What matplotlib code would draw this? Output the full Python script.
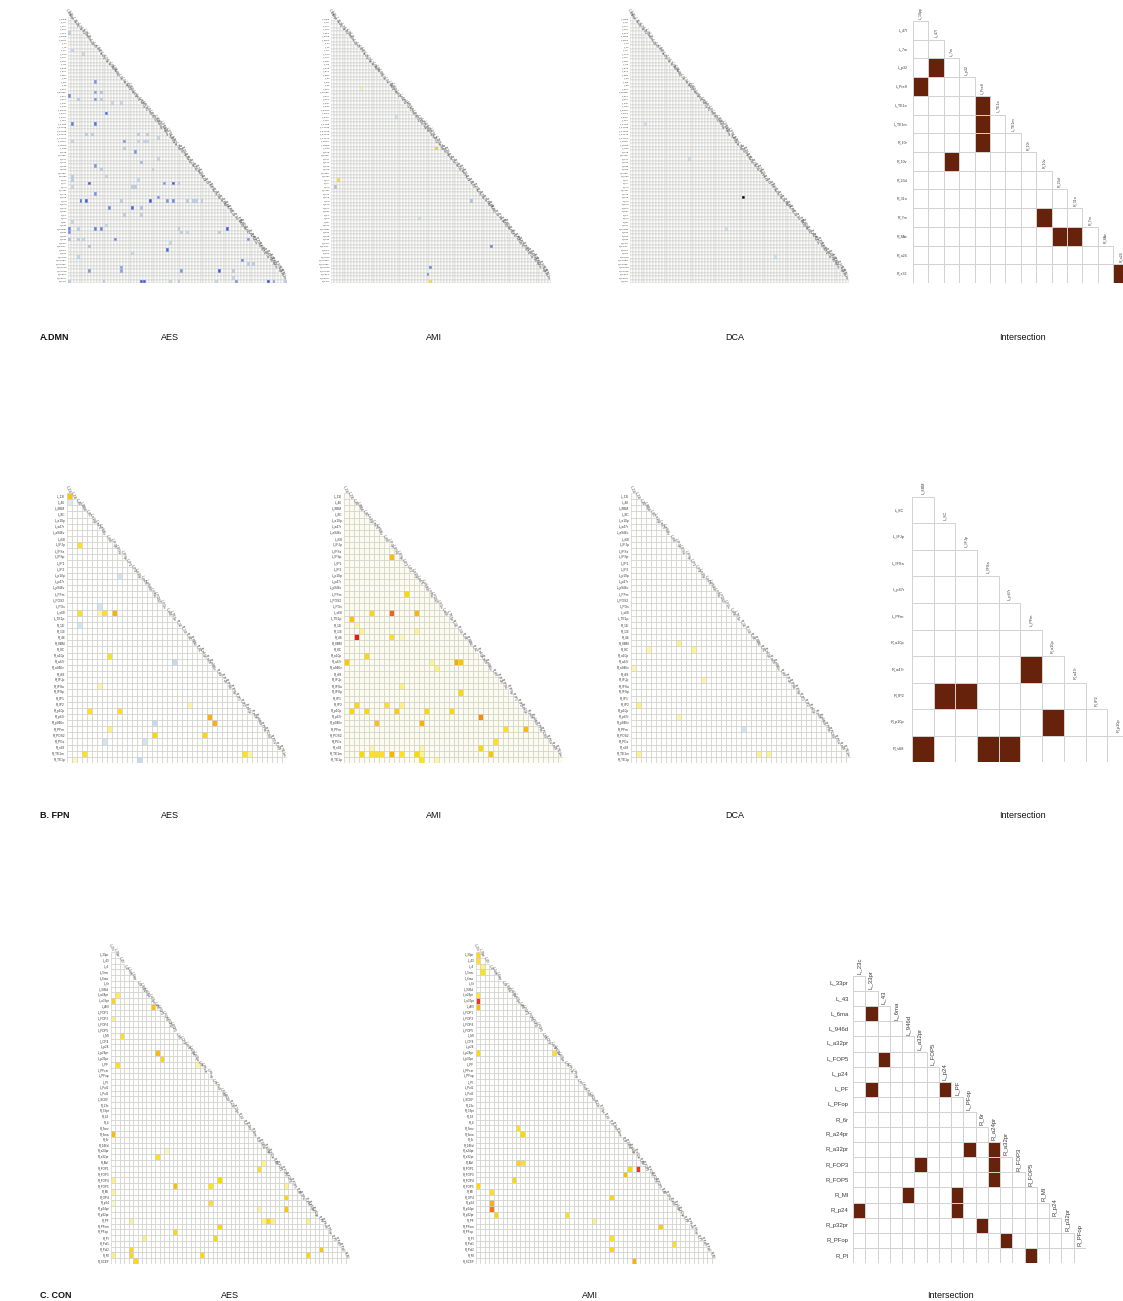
import numpy as np
import matplotlib
matplotlib.use("Agg")
import matplotlib.pyplot as plt
from matplotlib.colors import LinearSegmentedColormap, Normalize
from matplotlib.collections import PolyCollection

plt.rcParams['font.family'] = ['Liberation Sans', 'DejaVu Sans']

# ---------------------------------------------------------------- regions
dmn_left = ["10d", "10pp", "10r", "10v", "23d", "31a", "31pd", "31pv", "44", "45",
            "47l", "47m", "47s", "55b", "7m", "8Ad", "8Av", "8BL", "9a", "9m", "9p",
            "a24", "d23ab", "d32", "p32", "PGi", "PGs", "POS1", "PreS", "RSC", "s32",
            "STGa", "STSda", "STSdp", "STSva", "STSvp", "TE1a", "TE1m", "TGd"]
dmn_right = ["10d", "10pp", "10r", "10v", "23d", "31a", "31pd", "31pv", "44", "45",
             "47l", "47m", "47s", "55b", "7m", "8Ad", "8Av", "8BL", "9a", "9m", "9p",
             "a24", "d23ab", "d32", "p32", "PGi", "PGs", "POS1", "RSC", "s32",
             "STGa", "STSda", "STSdp", "STSva", "STSvp", "TE1a", "TE1m", "TGd"]
fpn_left = ["11l", "13l", "46", "8BM", "8C", "a10p", "a47r", "a946v", "i68", "IFJp",
            "IFSa", "IFSp", "IP1", "IP2", "p10p", "p47r", "p946v", "PFm", "POS2",
            "PGs", "s68", "TE1p"]
fpn_right = ["11l", "13l", "46", "8BM", "8C", "a10p", "a47r", "a946v", "i68", "IFJp",
             "IFSa", "IFSp", "IP1", "IP2", "p10p", "p47r", "p946v", "PFm", "POS2",
             "PGs", "s68", "TE1m", "TE1p"]
con_left = ["23c", "33pr", "43", "4", "5mv", "6ma", "6r", "946d", "a24pr", "a32pr",
            "AVI", "FOP1", "FOP3", "FOP4", "FOP5", "MI", "OP4", "p24", "p24pr",
            "p32pr", "PF", "PFcm", "PFop", "PI", "PoI1", "PoI2", "SCEF"]
con_right = ["23c", "33pr", "43", "4", "5mv", "6ma", "6r", "946d", "a24pr", "a32pr",
             "AVI", "FOP1", "FOP3", "FOP4", "FOP5", "MI", "OP4", "p24", "p24pr",
             "p32pr", "PF", "PFcm", "PFop", "PI", "PoI1", "PoI2", "RI", "SCEF"]

dmn_names = ["L_" + s for s in dmn_left] + ["R_" + s for s in dmn_right]
fpn_names = ["L_" + s for s in fpn_left] + ["R_" + s for s in fpn_right]
con_names = ["L_" + s for s in con_left] + ["R_" + s for s in con_right]

# ---------------------------------------------------------------- DMN edges
dmn_aes_r = [4, 9, 10, 18, 21, 21, 22, 23, 23, 23, 24, 24, 27, 30, 30, 33, 33, 33, 33,
             34, 35, 35, 35, 35, 35, 37, 38, 41, 40, 42, 43, 43, 45, 46, 45, 46,
             47, 47, 47, 47, 48, 48, 48, 50, 51, 52, 52, 52, 52, 52, 52, 52, 52, 52,
             52, 54, 54, 54, 56, 56, 58, 60, 61, 60, 60, 60, 59, 60, 61, 61, 61, 60,
             63, 63, 63, 63, 64, 63, 65, 66, 68, 67, 69, 70, 70, 71, 72, 72, 72, 72,
             72, 74, 75, 75, 75, 75, 75, 75, 75, 75, 75, 75, 75]
dmn_aes_c = [0, 1, 5, 9, 9, 11, 0, 3, 9, 11, 15, 18, 13, 1, 9, 6, 8, 24, 27,
             31, 1, 19, 24, 26, 27, 19, 23, 25, 31, 9, 11, 29, 1, 1, 13, 24,
             7, 33, 36, 38, 1, 22, 23, 9, 31, 4, 6, 18, 28, 34, 36, 41, 43, 44,
             46, 14, 22, 25, 19, 25, 1, 0, 0, 3, 9, 11, 13, 38, 39, 41, 52, 55,
             0, 3, 5, 16, 35, 62, 7, 34, 3, 22, 60, 62, 64, 18, 18, 7, 39, 52,
             57, 57, 0, 12, 25, 26, 35, 38, 51, 58, 69, 71, 75]
dmn_aes_v = [-0.25, -0.2, -0.2, -0.5, -0.45, -0.3, -0.55, -0.25, -0.5, -0.25, -0.2, -0.2,
             -0.75, -0.6, -0.7, -0.25, -0.25, -0.25, -0.25, -0.2, -0.2, -0.5, -0.2,
             -0.2, -0.2, -0.25, -0.5, -0.35, -0.2, -0.5, -0.25, -0.2, -0.25, -0.25,
             -0.2, -0.2, -0.85, -0.45, -0.85, -0.25, -0.2, -0.25, -0.25, -0.5, -0.5,
             -0.85, -0.85, -0.25, -0.9, -0.5, -0.55, -0.25, -0.25, -0.25, -0.25,
             -0.55, -0.8, -0.3, -0.25, -0.25, -0.2, -0.55, -0.55, -0.25, -0.6, -0.55,
             -0.2, -0.25, -0.25, -0.2, -0.25, -0.85, -0.3, -0.25, -0.2, -0.55, -0.2,
             -0.5, -0.3, -0.75, -0.2, -0.2, -0.55, -0.25, -0.25, -0.45, -0.45, -0.5,
             -0.5, -0.85, -0.25, -0.2, -0.25, -0.25, -0.85, -0.85, -0.2, -0.25, -0.2,
             -0.5, -0.9, -0.5, -0.25]

dmn_ami_r = [13, 20, 28, 37, 39, 46, 48, 52, 57, 65, 71, 73, 75]
dmn_ami_c = [17, 10, 22, 36, 40, 2, 1, 48, 30, 55, 34, 33, 34]
dmn_ami_v = [0.25, 0.15, -0.15, 0.55, 0.35, 0.45, -0.3, -0.3, -0.15, -0.6, -0.6,
             -0.6, 0.45]

# value above the colour range marks a saturated edge (drawn black)
dmn_dca_r = [51, 30, 40, 60, 68]
dmn_dca_c = [39, 5, 20, 33, 50]
dmn_dca_v = [1.5, -0.15, -0.15, -0.15, -0.15]

# ---------------------------------------------------------------- FPN edges
fpn_aes_r = [0, 1, 8, 13, 18, 19, 19, 19, 19, 21, 26, 27, 31, 34, 35, 35, 36, 37,
             37, 38, 39, 39, 40, 40, 42, 42, 42, 43, 43]
fpn_aes_c = [0, 0, 2, 10, 6, 2, 6, 7, 9, 2, 8, 21, 6, 24, 4, 10, 28, 29,
             17, 8, 17, 27, 7, 15, 3, 35, 36, 1, 14]
fpn_aes_v = [0.6, -0.12, 0.45, -0.15, -0.15, 0.45, 0.2, 0.45, 0.7, -0.15, 0.45, -0.2,
             0.2, 0.2, 0.45, 0.45, 0.7, 0.7, -0.2, 0.3, 0.5, 0.5, -0.15, -0.15, 0.45,
             0.45, 0.2, 0.15, -0.2]

fpn_ami_r = [10, 16, 19, 19, 19, 20, 21, 22, 22, 23, 23, 23, 26, 27, 27, 27, 27, 28,
             31, 32, 34, 34, 34, 35, 35, 35, 35, 35, 36, 37, 37, 38, 38, 40, 41, 41,
             41, 42, 42, 42, 42, 42, 42, 42, 42, 42, 43, 43]
fpn_ami_c = [9, 12, 5, 9, 14, 1, 2, 3, 14, 2, 9, 11, 4, 0, 17, 22, 23, 18,
             11, 23, 2, 8, 11, 1, 4, 10, 16, 21, 27, 6, 15, 32, 36, 30, 5, 15,
             27, 3, 5, 6, 7, 9, 11, 14, 15, 29, 15, 18]
fpn_ami_v = [0.65, 0.5, 0.5, 0.88, 0.68, 0.62, 0.2, 0.25, 0.25, 1.0, 0.45, 0.15, 0.5,
             0.6, 0.25, 0.72, 0.62, 0.3, 0.3, 0.5, 0.5, 0.45, 0.3, 0.5, 0.5, 0.55,
             0.5, 0.5, 0.8, 0.62, 0.7, 0.45, 0.65, 0.45, 0.2, 0.2, 0.5, 0.5, 0.45,
             0.45, 0.45, 0.7, 0.45, 0.5, 0.25, 0.6, 0.45, 0.2]

fpn_dca_r = [24, 25, 25, 28, 30, 34, 36, 38, 42, 42, 42]
fpn_dca_c = [9, 3, 12, 0, 14, 1, 9, 22, 1, 25, 27]
fpn_dca_v = [0.25, 0.2, 0.25, 0.2, 0.2, 0.3, 0.2, -0.15, 0.25, 0.25, 0.25]

# ---------------------------------------------------------------- CON edges
con_aes_r = [7, 8, 9, 11, 14, 17, 18, 19, 19, 31, 34, 35, 36, 37, 37, 39, 39, 40,
             40, 40, 41, 42, 43, 43, 44, 44, 46, 46, 46, 46, 46, 47, 48, 49, 49,
             51, 51, 52, 52, 52, 52, 53]
con_aes_c = [1, 0, 9, 0, 2, 10, 11, 1, 19, 0, 12, 10, 34, 33, 39, 0, 24, 14,
             22, 39, 0, 39, 0, 22, 33, 39, 4, 34, 35, 36, 44, 24, 14, 7, 23,
             4, 47, 0, 4, 20, 44, 5]
con_aes_v = [0.35, 0.5, 0.62, 0.3, 0.45, 0.65, 0.5, 0.45, 0.2, 0.65, 0.15, 0.45,
             0.25, 0.45, 0.72, 0.3, 0.5, 0.65, 0.45, 0.25, 0.25, 0.5, 0.15, 0.45,
             0.25, 0.6, 0.25, 0.3, 0.5, 0.3, 0.3, 0.5, 0.5, 0.3, 0.5, 0.5, 0.6, 0.3,
             0.5, 0.5, 0.5, 0.5]

con_ami_r = [0, 1, 2, 3, 7, 8, 8, 9, 17, 17, 17, 18, 30, 31, 36, 36, 37, 37, 38,
             39, 40, 41, 42, 43, 44, 45, 45, 46, 47, 49, 50, 51, 53]
con_ami_c = [0, 0, 1, 1, 0, 0, 10, 0, 0, 17, 22, 22, 9, 10, 9, 10, 34, 36, 33,
             8, 0, 3, 30, 3, 3, 4, 20, 26, 41, 30, 44, 30, 35]
con_ami_v = [0.5, 0.45, 0.3, 0.45, 0.4, 0.95, 0.7, 0.65, 0.5, 0.45, 0.5, 0.3, 0.45,
             0.5, 0.5, 0.45, 0.5, 0.95, 0.65, 0.5, 0.5, 0.45, 0.5, 0.7, 0.85, 0.5,
             0.45, 0.3, 0.55, 0.45, 0.45, 0.5, 0.7]

# ---------------------------------------------------------------- intersections
dmn_int_names = ["L_10pp", "L_47l", "L_7m", "L_p32", "L_PreS", "L_TE1a", "L_TE1m",
                 "R_10r", "R_10v", "R_23d", "R_31a", "R_7m", "R_8Av", "R_a24", "R_s32"]
dmn_int_r = [2, 3, 4, 5, 6, 7, 10, 11, 11, 13]
dmn_int_c = [1, 0, 4, 4, 4, 2, 8, 9, 10, 13]

fpn_int_names = ["L_8BM", "L_8C", "L_IFJp", "L_IFSa", "L_p47r", "L_PFm", "R_a10p",
                 "R_a47r", "R_IP2", "R_p10p", "R_s68"]
fpn_int_r = [6, 7, 7, 8, 9, 9, 9]
fpn_int_c = [5, 1, 2, 6, 0, 3, 4]

con_int_names = ["L_23c", "L_33pr", "L_43", "L_6ma", "L_946d", "L_a32pr", "L_FOP5",
                 "L_p24", "L_PF", "L_PFop", "R_6r", "R_a24pr", "R_a32pr", "R_FOP3",
                 "R_FOP5", "R_MI", "R_p24", "R_p32pr", "R_PFop", "R_PI"]
con_int_r = [2, 5, 7, 7, 11, 11, 12, 12, 13, 14, 14, 15, 15, 16, 17, 18]
con_int_c = [1, 2, 1, 7, 9, 11, 5, 11, 11, 4, 8, 0, 8, 10, 12, 14]

# ---------------------------------------------------------------- drawing
W, H = 1123, 1301
fig = plt.figure(figsize=(W / 100, H / 100), dpi=100)
fig.patch.set_facecolor("white")


def edge_cmap(zero_color):
    cm = LinearSegmentedColormap.from_list("edge", [
        (0.00, "#2a46e6"), (0.20, "#5b7fe8"), (0.35, "#a9c4ec"), (0.44, "#d9ecf0"),
        (0.50, zero_color), (0.56, "#fdf9c8"), (0.65, "#fff27a"), (0.75, "#ffd900"),
        (0.85, "#fbb300"), (0.925, "#f57a10"), (1.00, "#ee1a10")])
    cm.set_over("black")
    return cm


WHITE_ZERO = "#fefefe"
IVORY_ZERO = "#fbfbf1"
hit_cmap = LinearSegmentedColormap.from_list("hit", ["#ffffff", "#66220a"])
TXT = "#3a3a3a"


def px_axes(x0, y0, x1, y1):
    """Axes placed by pixel box (top-left origin)."""
    return fig.add_axes([x0 / W, 1 - y1 / H, (x1 - x0) / W, (y1 - y0) / H])


def lower_cells(n, rows, cols, vals):
    """Quads and values for the strict lower triangle of an n x n matrix."""
    m = np.zeros((n, n))
    for r, c, v in zip(rows, cols, vals):
        m[r, c] = v
    verts, values = [], []
    for r in range(n):
        for c in range(r + 1):
            verts.append([(c, r), (c + 1, r), (c + 1, r + 1), (c, r + 1)])
            values.append(m[r, c])
    return verts, np.array(values)


def draw_triangle(ax, n, rows, cols, vals, cm, vmin, vmax, grid, lw):
    verts, values = lower_cells(n, rows, cols, vals)
    coll = PolyCollection(verts, array=values, cmap=cm,
                          norm=Normalize(vmin, vmax), edgecolors=grid,
                          linewidths=lw, antialiased=True)
    ax.add_collection(coll)
    ax.set_xlim(0, n)
    ax.set_ylim(n, 0)
    ax.axis("off")


def heat_panel(box, names, rows, cols, vals, fs, zero=WHITE_ZERO,
               grid="#cdcdcd", lw=0.45, cfs=None):
    n = len(names) - 1
    ax = px_axes(*box)
    draw_triangle(ax, n, rows, cols, vals, edge_cmap(zero), -1, 1, grid, lw)
    cfs = cfs or fs
    for i in range(n):
        ax.text(-0.4, i + 0.5, names[i + 1], ha="right", va="center",
                fontsize=fs, color=TXT)
        ax.text(i + 0.55, i - 0.1, names[i], ha="right", va="center",
                rotation=-70, rotation_mode="anchor", fontsize=cfs, color=TXT)
    return ax


def inter_panel(box, names, rows, cols, fs):
    n = len(names) - 1
    ax = px_axes(*box)
    vals = [1.0] * len(rows)
    draw_triangle(ax, n, rows, cols, vals, hit_cmap, 0, 1, "#d2d2d2", 0.7)
    for i in range(n):
        ax.text(-0.35, i + 0.5, names[i + 1], ha="right", va="center",
                fontsize=fs, color=TXT)
        ax.text(i + 0.5, i - 0.12, names[i], ha="center", va="bottom",
                rotation=90, fontsize=fs, color=TXT)
    return ax


# row A: default mode network
heat_panel((68, 17, 287, 283), dmn_names, dmn_aes_r, dmn_aes_c, dmn_aes_v, 1.7,
           grid="#c8c8c8", lw=0.35, cfs=2.2)
heat_panel((331, 17, 551, 283), dmn_names, dmn_ami_r, dmn_ami_c, dmn_ami_v, 1.7,
           grid="#c8c8c8", lw=0.35, cfs=2.2)
heat_panel((630, 17, 849, 283), dmn_names, dmn_dca_r, dmn_dca_c, dmn_dca_v, 1.7,
           grid="#c8c8c8", lw=0.35, cfs=2.2)
inter_panel((913, 21, 913 + 14 * 15.4, 283), dmn_int_names, dmn_int_r, dmn_int_c, 2.6)

# row B: frontoparietal network
heat_panel((67, 493, 287, 763), fpn_names, fpn_aes_r, fpn_aes_c, fpn_aes_v, 2.3)
heat_panel((344, 493, 563, 763), fpn_names, fpn_ami_r, fpn_ami_c, fpn_ami_v, 2.3,
           zero=IVORY_ZERO, grid="#cfcfc6")
heat_panel((631, 493, 851, 763), fpn_names, fpn_dca_r, fpn_dca_c, fpn_dca_v, 2.3)
inter_panel((912, 497, 912 + 10 * 21.7, 762), fpn_int_names, fpn_int_r, fpn_int_c, 2.8)

# row C: cingulo-opercular network
heat_panel((111, 952, 350, 1264), con_names, con_aes_r, con_aes_c, con_aes_v, 2.2)
heat_panel((476, 952, 716, 1264), con_names, con_ami_r, con_ami_c, con_ami_v, 2.2)
inter_panel((853, 976, 1086, 1263), con_int_names, con_int_r, con_int_c, 4.3)


def caption(x, y, s, bold=False):
    fig.text(x / W, 1 - y / H, s, ha="left" if bold else "center", va="center",
             fontsize=6.5, fontweight="bold" if bold else "normal", color="#111111")


caption(40, 338, "A.DMN", bold=True)
caption(170, 338, "AES"); caption(434, 338, "AMI"); caption(735, 338, "DCA")
caption(1022, 338, "Intersection")
caption(40, 816, "B. FPN", bold=True)
caption(170, 816, "AES"); caption(434, 816, "AMI"); caption(735, 816, "DCA")
caption(1022, 816, "Intersection")
caption(40, 1295, "C. CON", bold=True)
caption(230, 1295, "AES"); caption(590, 1295, "AMI"); caption(950, 1295, "Intersection")

fig.savefig("out.png", dpi=100, facecolor="white")
